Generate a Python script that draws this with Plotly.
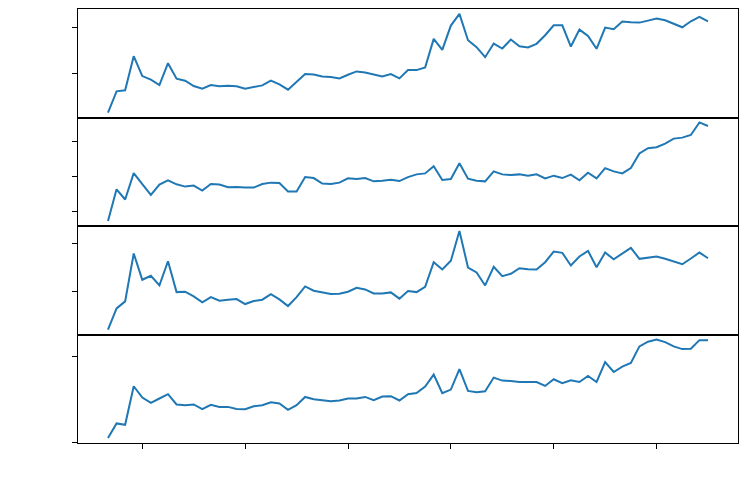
import plotly.graph_objects as go
from plotly.subplots import make_subplots

# monthly observation index
periods = list(range(71))
xtick_positions = [4, 16, 28, 40, 52, 64]

series_1 = [4.7, 26, 27, 61.3, 41.3, 37.7, 32.3, 54.3, 38.7, 36.7,
            31.3, 28.7, 32.3, 31, 31.7, 31, 28.7, 30.7, 32, 36.7,
            33, 27.7, 35.3, 43.3, 43, 41, 40.3, 39, 42.7, 46,
            45, 43, 41, 43.3, 39, 47.3, 47.3, 50, 78.7, 67.7,
            92, 103.7, 77.3, 70.3, 60.3, 74, 69, 78, 71.3, 70,
            73.7, 82.3, 92.3, 92.3, 71, 88, 81.7, 68.7, 90, 88.3,
            96, 95.3, 95, 97, 99, 97.3, 94, 90.3, 96.3, 100.7, 96.3]

series_2 = [4, 36, 25.7, 52.3, 41.3, 30.3, 40.7, 45, 41, 38.7,
            39.7, 34.7, 41.3, 40.7, 38, 38.3, 37.7, 37.7, 41.3, 42.7,
            42.3, 33.7, 33.7, 48.3, 47.3, 41.7, 41.3, 42.7, 47, 46.3,
            47.3, 44, 44.7, 45.7, 44.3, 48.3, 51, 52, 59.3, 45.3,
            46.3, 62.3, 46.7, 44.7, 44, 54, 51, 50.3, 51, 49.7,
            51, 47, 49.7, 47.3, 50.7, 45, 52.7, 47, 57.3, 54,
            52, 57.3, 72, 77.3, 78.3, 82, 87, 88, 90.7, 103.3, 99.7]

series_3 = [3.7, 25, 32, 80, 53.7, 57.7, 48, 72.3, 41.3, 41.7,
            37, 31, 36.3, 32.7, 33.7, 34.3, 29.3, 32.3, 33.7, 39.3,
            34, 27.3, 36.3, 47, 42.7, 41, 39.3, 39.7, 41.7, 45.7,
            44, 40, 40, 41, 34.7, 42.3, 41.3, 46.7, 71.3, 64,
            72.7, 102.7, 66, 61, 48, 66.7, 57.3, 59.7, 65.3, 64.3,
            64, 71.3, 82, 80.7, 68, 77, 82.7, 66.3, 81, 74.3,
            80, 85.7, 74.7, 76, 77, 74.7, 72, 69.3, 75, 81, 75.3]

series_4 = [5, 19.7, 18.3, 57, 45.7, 40.3, 44.7, 49, 38.7, 38,
            38.7, 34, 38.3, 36.3, 36.3, 34.3, 34, 37, 38, 41,
            39.7, 33.3, 38, 46.3, 44, 43.3, 42, 42.7, 44.7, 44.7,
            46.3, 43, 46.7, 47, 42.7, 49, 50.3, 56.7, 68.7, 50,
            53.7, 74.3, 52.3, 51, 52, 65.7, 62.7, 62.3, 61.3, 61.3,
            61.3, 57.3, 64, 60, 63, 61.3, 67.3, 61.3, 81.3, 71.3,
            76.7, 80.3, 97, 101.7, 104, 101.3, 97, 94.3, 94.7, 103.3, 103.3]

ytick_values = [
    [44.3, 89.7],
    [14, 48.7, 83.7],
    [42, 90],
    [0.5, 86.7],
]

all_series = [series_1, series_2, series_3, series_4]

fig = make_subplots(rows=4, cols=1, shared_xaxes=True, vertical_spacing=0)

for i, s in enumerate(all_series):
    fig.add_trace(go.Scatter(x=periods, y=s, mode="lines",
                             line=dict(color="#1f77b4", width=2),
                             showlegend=False), row=i + 1, col=1)
    lo, hi = min(s), max(s)
    span = hi - lo
    fig.update_yaxes(range=[lo - 0.05 * span, hi + 0.05 * span],
                     tickvals=ytick_values[i], showticklabels=False,
                     ticks="outside", ticklen=5, tickwidth=1, tickcolor="black",
                     showline=True, linecolor="black", linewidth=1, mirror=True,
                     showgrid=False, zeroline=False, row=i + 1, col=1)

xspan = periods[-1] - periods[0]
for r in range(1, 5):
    fig.update_xaxes(range=[periods[0] - 0.05 * xspan, periods[-1] + 0.05 * xspan],
                     tickvals=xtick_positions, showticklabels=False,
                     ticks="outside" if r == 4 else "", ticklen=5, tickwidth=1,
                     tickcolor="black",
                     showline=True, linecolor="black", linewidth=1, mirror=True,
                     showgrid=False, zeroline=False, row=r, col=1)

# page body has an 8px default margin, so the figure is sized to fit inside it
fig.update_layout(width=740, height=493,
                  margin=dict(l=70, r=10, t=1, b=58),
                  plot_bgcolor="white", paper_bgcolor="white")

fig.write_html("out.html", config={"displayModeBar": False})
